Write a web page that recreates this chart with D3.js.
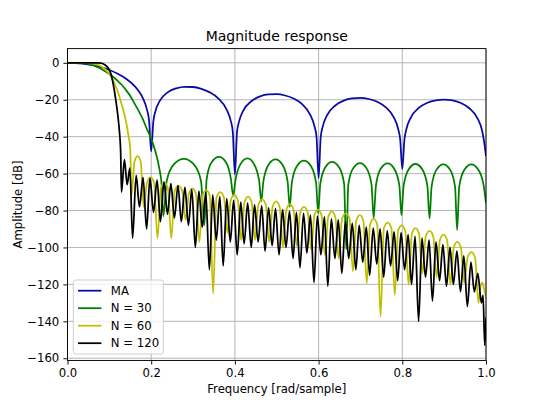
<!DOCTYPE html>
<html>
<head>
<meta charset="utf-8">
<script src="https://cdn.jsdelivr.net/npm/d3@7"></script>
<style>
  body { margin: 0; background: #fff; }
  svg { display: block; font-family: "DejaVu Sans", sans-serif; }
</style>
</head>
<body>
<div id="chart"></div>
<script>
// tick values
const xTicks = [0, 0.2, 0.4, 0.6, 0.8, 1.0];
const yTicks = [0, -20, -40, -60, -80, -100, -120, -140, -160];

const seriesNames = ["MA", "N = 30", "N = 60", "N = 120"];

// points: [frequency, amplitude dB]
const maPoints = [
  [0, 0], [0.02, -0.1], [0.04, -0.6], [0.06, -1.3], [0.08, -2.4], [0.10, -3.9], [0.12, -5.9],
  [0.14, -8.6], [0.16, -12.5], [0.17, -15.3], [0.18, -19.1], [0.19, -25.5], [0.195, -31.4], [0.2, -48],
  [0.205, -32], [0.21, -26.3], [0.22, -20.8], [0.24, -15.9], [0.26, -13.8], [0.28, -13], [0.3, -13.1],
  [0.32, -14.1], [0.34, -16], [0.36, -19.2], [0.38, -25.2], [0.39, -31.3], [0.395, -37.4], [0.4, -60.5],
  [0.405, -37.5], [0.41, -31.7], [0.42, -25.9], [0.44, -20.7], [0.46, -18.2], [0.48, -17.1], [0.5, -17],
  [0.52, -17.7], [0.54, -19.3], [0.56, -22.3], [0.58, -28.2], [0.59, -34.2], [0.595, -40], [0.6, -62.5],
  [0.605, -40.3], [0.61, -34.4], [0.62, -28.5], [0.64, -23.1], [0.66, -20.5], [0.68, -19.3], [0.7, -19],
  [0.72, -19.6], [0.74, -21.1], [0.76, -24], [0.78, -29.7], [0.79, -35.7], [0.795, -41.6], [0.8, -57.5],
  [0.805, -41.7], [0.81, -35.7], [0.82, -29.8], [0.84, -24.3], [0.86, -21.6], [0.88, -20.3], [0.9, -19.9],
  [0.92, -20.4], [0.94, -21.8], [0.96, -24.6], [0.98, -30.2], [0.99, -36.1], [0.995, -42], [1.0, -50.5]
];

const n30Points = [
  [0, 0], [0.02, -0.05], [0.04, -0.3], [0.05, -0.6], [0.06, -1.2], [0.07, -2.2], [0.08, -3.2],
  [0.09, -4.6], [0.1, -6], [0.11, -7.8], [0.12, -9.8], [0.13, -12], [0.14, -14.8], [0.15, -18],
  [0.16, -22], [0.17, -26], [0.18, -30.5], [0.19, -36], [0.2, -41], [0.21, -48], [0.22, -58],
  [0.225, -66], [0.229, -83],
  [0.237, -64], [0.254, -55], [0.278, -52], [0.302, -55], [0.319, -64], [0.327, -88],
  [0.3325, -63], [0.344, -54], [0.362, -51], [0.379, -54], [0.3905, -63], [0.396, -72],
  [0.401, -64], [0.413, -55], [0.43, -51.8], [0.446, -55], [0.458, -64], [0.463, -75],
  [0.468, -64.3], [0.48, -55.3], [0.497, -52.3], [0.514, -55.3], [0.526, -64.3], [0.531, -78],
  [0.536, -65], [0.548, -56], [0.565, -53], [0.582, -56], [0.594, -65], [0.599, -81.5],
  [0.604, -65.6], [0.616, -56.6], [0.632, -53.6], [0.649, -56.6], [0.661, -65.6], [0.666, -101],
  [0.671, -66], [0.682, -57.3], [0.699, -54.3], [0.715, -57.3], [0.7265, -66], [0.7315, -84],
  [0.737, -66.5], [0.748, -57.5], [0.765, -54.5], [0.781, -57.5], [0.793, -66.5], [0.798, -82.5],
  [0.803, -66.8], [0.815, -57.8], [0.8315, -54.8], [0.848, -57.8], [0.86, -66.8], [0.865, -84.3],
  [0.87, -67], [0.8815, -58], [0.898, -55], [0.9145, -58], [0.926, -67], [0.931, -90.6],
  [0.936, -67], [0.948, -58], [0.965, -55], [0.982, -58], [0.994, -66], [1.0, -76]
];

const n60Points = [
  [0, 0], [0.04, -0.02], [0.05, -0.1], [0.06, -0.3], [0.07, -0.8], [0.08, -1.8], [0.09, -3.5],
  [0.1, -6], [0.11, -10], [0.12, -15.5], [0.13, -23], [0.14, -32], [0.145, -38.5], [0.15, -47], [0.153, -72],
  [0.160, -53.5], [0.1675, -50.5], [0.175, -53.5], [0.182, -78],
  [0.190, -65], [0.1985, -62], [0.207, -65], [0.215, -95],
  [0.223, -68], [0.2315, -65], [0.240, -68], [0.248, -95],
  [0.256, -69.5], [0.265, -66.5], [0.274, -69.5], [0.282, -85],
  [0.290, -71], [0.2985, -68], [0.307, -71], [0.315, -97],
  [0.323, -72], [0.3315, -69], [0.340, -72], [0.348, -125],
  [0.356, -73], [0.365, -70], [0.374, -73], [0.382, -92],
  [0.390, -74.5], [0.3985, -71.5], [0.407, -74.5], [0.415, -96],
  [0.423, -75.5], [0.4315, -72.5], [0.440, -75.5], [0.448, -96],
  [0.456, -77], [0.465, -74], [0.474, -77], [0.482, -97],
  [0.490, -78], [0.4985, -75], [0.507, -78], [0.515, -100],
  [0.523, -79.5], [0.5315, -76.5], [0.540, -79.5], [0.548, -99],
  [0.556, -81], [0.565, -78], [0.574, -81], [0.582, -101],
  [0.590, -82.5], [0.5985, -79.5], [0.607, -82.5], [0.615, -104],
  [0.623, -83.5], [0.6315, -80.5], [0.640, -83.5], [0.648, -106],
  [0.656, -84.5], [0.665, -81.5], [0.674, -84.5], [0.682, -113],
  [0.690, -85.5], [0.6985, -82.5], [0.707, -85.5], [0.715, -119.5],
  [0.723, -87.5], [0.7315, -84.5], [0.740, -87.5], [0.748, -137.5],
  [0.756, -89.5], [0.765, -86.5], [0.774, -89.5], [0.782, -125.8],
  [0.790, -91], [0.7985, -88], [0.807, -91], [0.815, -120],
  [0.823, -92.5], [0.8315, -89.5], [0.840, -92.5], [0.848, -114],
  [0.856, -94], [0.865, -91], [0.874, -94], [0.882, -116],
  [0.890, -96], [0.8985, -93], [0.907, -96], [0.915, -120],
  [0.923, -100], [0.9315, -97], [0.940, -100], [0.948, -119],
  [0.956, -105.5], [0.965, -102.5], [0.974, -105.5], [0.982, -130],
  [0.987, -121], [0.991, -119], [0.995, -122], [1.0, -127]
];

const n120Points = [
  [0, 0], [0.07, -0.02], [0.08, -0.2], [0.09, -1.2], [0.095, -2.2], [0.1, -3.8], [0.105, -7],
  [0.11, -12.5], [0.115, -19.5], [0.12, -28], [0.124, -37], [0.127, -48], [0.129, -70],
  [0.136, -52.5], [0.1425, -66], [0.149, -57], [0.1555, -95],
  [0.164, -61], [0.172, -78], [0.1805, -62], [0.189, -90], [0.197, -62.5], [0.2055, -81],
  [0.214, -63.5], [0.222, -86], [0.2305, -64.5], [0.239, -82], [0.247, -65.5], [0.2555, -84],
  [0.264, -66.5], [0.272, -86], [0.2805, -67.5], [0.289, -88], [0.297, -68.5], [0.3055, -100],
  [0.314, -69.5], [0.322, -89], [0.3305, -70.5], [0.339, -112], [0.347, -71.5], [0.3555, -96],
  [0.364, -72.5], [0.372, -110], [0.3805, -73.5], [0.389, -97], [0.397, -74.5], [0.4055, -104],
  [0.414, -75.5], [0.422, -98], [0.4305, -76], [0.439, -100], [0.447, -77], [0.4555, -97],
  [0.464, -77.5], [0.472, -102], [0.4805, -78.5], [0.489, -99], [0.497, -79], [0.5055, -104],
  [0.514, -79.5], [0.522, -100], [0.5305, -80.5], [0.539, -106], [0.547, -81], [0.5555, -111],
  [0.564, -81.5], [0.572, -103], [0.5805, -82.5], [0.589, -119], [0.597, -83], [0.6055, -104],
  [0.614, -83.5], [0.622, -121], [0.6305, -84.5], [0.639, -106], [0.647, -85], [0.6555, -114],
  [0.664, -86], [0.672, -106], [0.6805, -87], [0.689, -112], [0.697, -88], [0.7055, -108],
  [0.714, -89], [0.722, -115], [0.7305, -89.5], [0.739, -109], [0.747, -90], [0.7555, -116],
  [0.764, -91], [0.772, -110], [0.7805, -91.5], [0.789, -118], [0.797, -92], [0.8055, -112],
  [0.814, -93], [0.822, -120], [0.8305, -94], [0.839, -140], [0.847, -95], [0.8555, -116],
  [0.864, -96], [0.872, -129], [0.8805, -97], [0.889, -118], [0.897, -98.5], [0.9055, -121],
  [0.914, -100], [0.922, -120], [0.9305, -102], [0.939, -124], [0.947, -104.5], [0.9555, -132],
  [0.964, -108], [0.972, -124], [0.9805, -114], [0.989, -130], [0.993, -126], [0.997, -153], [1.0, -138]
];

const colors = ["#0a0aa6", "#008000", "#bfbf00", "#000000"];

const width = 540, height = 405;
const margin = {top: 48.6, right: 54, bottom: 44.55, left: 67.5};
const fontSize = 11.7;

const x = d3.scaleLinear().domain([0, 1]).range([margin.left, width - margin.right]);
const y = d3.scaleLinear().domain([-161.2, 7.7]).range([height - margin.bottom, margin.top]);

const svg = d3.select("#chart").append("svg")
    .attr("width", width)
    .attr("height", height)
    .attr("viewBox", [0, 0, width, height]);

svg.append("rect").attr("width", width).attr("height", height).attr("fill", "#fff");

svg.append("defs").append("clipPath")
    .attr("id", "clip")
  .append("rect")
    .attr("x", margin.left)
    .attr("y", margin.top)
    .attr("width", width - margin.left - margin.right)
    .attr("height", height - margin.top - margin.bottom);

// grid
const grid = svg.append("g").attr("stroke", "#b0b0b0").attr("stroke-width", 0.94);
grid.selectAll(".gx").data(xTicks).join("line")
    .attr("class", "gx")
    .attr("x1", d => x(d)).attr("x2", d => x(d))
    .attr("y1", margin.top).attr("y2", height - margin.bottom);
grid.selectAll(".gy").data(yTicks).join("line")
    .attr("class", "gy")
    .attr("y1", d => y(d)).attr("y2", d => y(d))
    .attr("x1", margin.left).attr("x2", width - margin.right);

// curves
const line = d3.line()
    .x(d => x(d[0]))
    .y(d => y(d[1]))
    .curve(d3.curveMonotoneX);

const series = [maPoints, n30Points, n60Points, n120Points];

svg.append("g")
    .attr("clip-path", "url(#clip)")
  .selectAll("path")
  .data(series)
  .join("path")
    .attr("d", line)
    .attr("fill", "none")
    .attr("stroke", (d, i) => colors[i])
    .attr("stroke-width", 1.76)
    .attr("stroke-linejoin", "round");

// axes
const xAxis = d3.axisBottom(x).tickValues(xTicks).tickFormat(d3.format(".1f"))
    .tickSize(4.1).tickPadding(4.1).tickSizeOuter(0);
const yAxis = d3.axisLeft(y).tickValues(yTicks).tickFormat(d3.format("d"))
    .tickSize(4.1).tickPadding(4.1).tickSizeOuter(0);

svg.append("g")
    .attr("transform", `translate(0,${height - margin.bottom})`)
    .call(xAxis)
    .call(g => g.select(".domain").remove())
    .call(g => g.selectAll(".tick line").attr("stroke-width", 0.94))
    .call(g => g.selectAll("text").attr("font-size", fontSize).attr("font-family", "DejaVu Sans").attr("fill", "#000"));

svg.append("g")
    .attr("transform", `translate(${margin.left},0)`)
    .call(yAxis)
    .call(g => g.select(".domain").remove())
    .call(g => g.selectAll(".tick line").attr("stroke-width", 0.94))
    .call(g => g.selectAll("text").attr("font-size", fontSize).attr("font-family", "DejaVu Sans").attr("fill", "#000"));

// spines
svg.append("rect")
    .attr("x", margin.left)
    .attr("y", margin.top)
    .attr("width", width - margin.left - margin.right)
    .attr("height", height - margin.top - margin.bottom)
    .attr("fill", "none")
    .attr("stroke", "#000")
    .attr("stroke-width", 0.94);

// labels
svg.append("text")
    .attr("x", (margin.left + width - margin.right) / 2)
    .attr("y", 41)
    .attr("text-anchor", "middle")
    .attr("font-size", 14)
    .text("Magnitude response");

svg.append("text")
    .attr("x", (margin.left + width - margin.right) / 2)
    .attr("y", 393)
    .attr("text-anchor", "middle")
    .attr("font-size", fontSize)
    .text("Frequency [rad/sample]");

svg.append("text")
    .attr("transform", `translate(21.5,${(margin.top + height - margin.bottom) / 2}) rotate(-90)`)
    .attr("text-anchor", "middle")
    .attr("font-size", fontSize)
    .text("Amplitude [dB]");

// legend
const legend = svg.append("g").attr("transform", "translate(73.3,280)");
legend.append("rect")
    .attr("width", 90)
    .attr("height", 74)
    .attr("rx", 2.5)
    .attr("fill", "#fff")
    .attr("fill-opacity", 0.8)
    .attr("stroke", "#cccccc")
    .attr("stroke-width", 0.94);

const rows = legend.selectAll(".row")
  .data(seriesNames)
  .join("g")
    .attr("class", "row")
    .attr("transform", (d, i) => `translate(0,${10.7 + i * 17.5})`);

rows.append("line")
    .attr("x1", 4.7).attr("x2", 28.1)
    .attr("stroke", (d, i) => colors[i])
    .attr("stroke-width", 1.76);

rows.append("text")
    .attr("x", 37.5)
    .attr("dy", "0.36em")
    .attr("font-size", fontSize)
    .text(d => d);
</script>
</body>
</html>
